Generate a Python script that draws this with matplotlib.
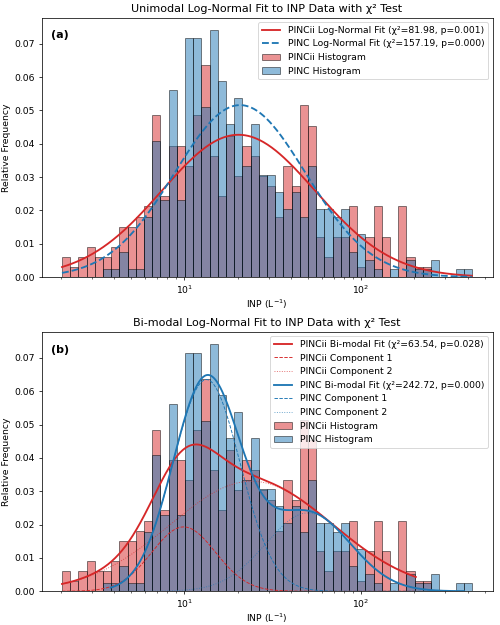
import numpy as np
import matplotlib
matplotlib.use('Agg')
import matplotlib.pyplot as plt

# histogram counts per log bin (50 bins, shared edges)
bin_lo, bin_hi = 2.03, 424.0
pincii_counts = [2, 1, 2, 3, 2, 2, 3, 5, 5, 6, 7, 16, 8, 13, 13, 11, 16, 21, 12, 8,
                 14, 10, 13, 12, 10, 9, 6, 11, 9, 17, 15, 4, 2, 4, 4, 7, 1, 4, 7, 4,
                 0, 7, 2, 1, 1, 0, 0, 0, 0, 0]
pinc_counts = [0, 0, 0, 0, 0, 1, 1, 3, 1, 1, 7, 16, 9, 22, 9, 28, 28, 20, 29, 23,
               18, 21, 13, 18, 12, 12, 10, 8, 10, 7, 13, 8, 8, 7, 8, 3, 5, 2, 1, 0,
               1, 0, 2, 1, 1, 2, 0, 0, 1, 1]

# fitted log-normal parameters: (amplitude, mu of log10 x, sigma of log10 x)
uni_pincii = (0.0427, 1.306, 0.434)
uni_pinc = (0.0516, 1.315, 0.370)
bi_pincii = [(0.0193, 0.996, 0.180), (0.0330, 1.380, 0.460)]
bi_pinc = [(0.0635, 1.125, 0.190), (0.0235, 1.700, 0.240)]

# x ranges of the fit curves
pincii_range = (2.03, 204.0)
pinc_range = (3.83, 382.0)

uni_labels = ['PINCii Log-Normal Fit (χ²=81.98, p=0.001)',
              'PINC Log-Normal Fit (χ²=157.19, p=0.000)']
bi_labels = ['PINCii Bi-modal Fit (χ²=63.54, p=0.028)',
             'PINC Bi-modal Fit (χ²=242.72, p=0.000)']


def gauss_log(x, p):
    a, mu, s = p
    return a * np.exp(-(np.log10(x) - mu) ** 2 / (2 * s ** 2))


edges = np.logspace(np.log10(bin_lo), np.log10(bin_hi), len(pincii_counts) + 1)
centers = np.sqrt(edges[:-1] * edges[1:])
w_pincii = np.array(pincii_counts) / np.sum(pincii_counts)
w_pinc = np.array(pinc_counts) / np.sum(pinc_counts)

fig, axes = plt.subplots(2, 1, figsize=(7.5, 9.375), dpi=500 / 7.5)
fig.subplots_adjust(left=0.083, right=0.985, top=0.972, bottom=0.054, hspace=0.21)

red = '#d62728'
blue = '#1f77b4'


def draw_hist(ax):
    ax.hist(centers, bins=edges, weights=w_pincii, color=red, alpha=0.5,
            edgecolor='black', label='PINCii Histogram')
    ax.hist(centers, bins=edges, weights=w_pinc, color=blue, alpha=0.5,
            edgecolor='black', label='PINC Histogram')


def finish(ax, title, tag):
    ax.set_xscale('log')
    ax.set_title(title)
    ax.set_xlabel('INP (L$^{-1}$)', labelpad=2)
    ax.set_ylabel('Relative Frequency')
    ax.text(0.02, 0.95, tag, transform=ax.transAxes, fontweight='bold',
            fontsize=12, va='top')
    ax.legend(loc='upper right')


# (a) unimodal
ax = axes[0]
xs = np.logspace(np.log10(bin_lo), np.log10(bin_hi), 400)
ax.plot(xs, gauss_log(xs, uni_pincii), color=red, lw=2, label=uni_labels[0])
ax.plot(xs, gauss_log(xs, uni_pinc), color=blue, lw=2, ls='--', label=uni_labels[1])
draw_hist(ax)
finish(ax, 'Unimodal Log-Normal Fit to INP Data with χ² Test', '(a)')

# (b) bi-modal
ax = axes[1]
xr = np.logspace(np.log10(pincii_range[0]), np.log10(pincii_range[1]), 400)
c1 = gauss_log(xr, bi_pincii[0])
c2 = gauss_log(xr, bi_pincii[1])
ax.plot(xr, c1 + c2, color=red, lw=2, label=bi_labels[0])
ax.plot(xr, c1, color=red, lw=1, ls='--', label='PINCii Component 1')
ax.plot(xr, c2, color=red, lw=1, ls=':', alpha=0.7, label='PINCii Component 2')
xb = np.logspace(np.log10(pinc_range[0]), np.log10(pinc_range[1]), 400)
b1 = gauss_log(xb, bi_pinc[0])
b2 = gauss_log(xb, bi_pinc[1])
ax.plot(xb, b1 + b2, color=blue, lw=2, label=bi_labels[1])
ax.plot(xb, b1, color=blue, lw=1, ls='--', label='PINC Component 1')
ax.plot(xb, b2, color=blue, lw=1, ls=':', alpha=0.7, label='PINC Component 2')
draw_hist(ax)
finish(ax, 'Bi-modal Log-Normal Fit to INP Data with χ² Test', '(b)')

plt.savefig('out.png', dpi=500 / 7.5)
